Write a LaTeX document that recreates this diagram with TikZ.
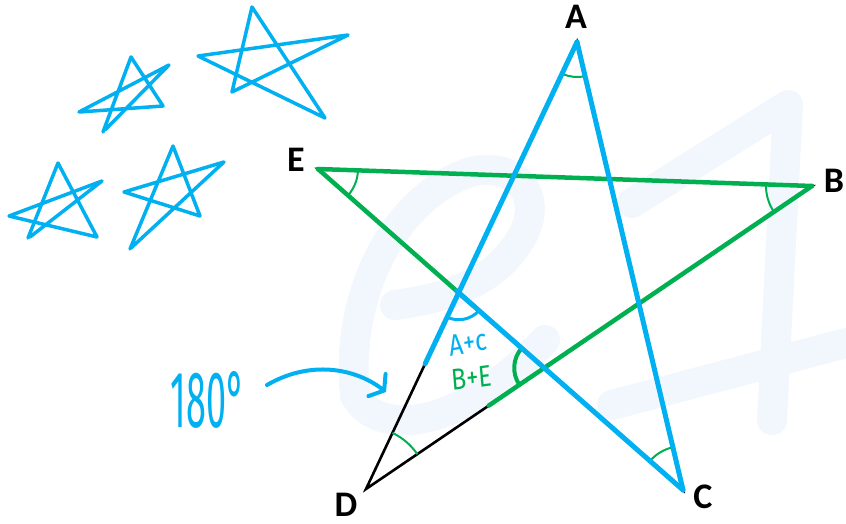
\documentclass[tikz,border=0pt]{standalone}
\usepackage{fontspec}
\setmainfont{Carlito}
\newfontfamily\handfont{Fira Sans}
\usetikzlibrary{angles,calc,arrows.meta}
\definecolor{skyb}{HTML}{00B0F0}
\definecolor{grn}{HTML}{00B050}
\definecolor{wmark}{HTML}{F1F7FC}
\begin{document}
\begin{tikzpicture}[x=1pt,y=-1pt,
  wm/.style={draw=wmark,line width=30pt,line cap=round,line join=round},
  blackline/.style={draw=black,line width=2.6pt,line cap=round},
  greenline/.style={draw=grn,line width=4.5pt,line cap=round},
  blueline/.style={draw=skyb,line width=5pt,line cap=round},
  doodle/.style={draw=skyb,line width=3.5pt,line cap=round,line join=round},
  garc/.style={draw=grn,line width=2pt},
  vlabel/.style={font=\bfseries\fontsize{36}{36}\selectfont,inner sep=0pt},
  hand/.style={font=\handfont\fontsize{30}{30}\selectfont,inner sep=0pt,xscale=0.82}]
\useasboundingbox (0,0) rectangle (846,524);
% watermark
\draw[wm] (355,395) .. controls (345,300) and (390,200) .. (470,172)
  .. controls (520,160) and (545,200) .. (520,240)
  .. controls (490,290) and (430,300) .. (395,305);
\draw[wm] (355,395) .. controls (375,435) and (455,435) .. (545,340);
\draw[wm] (632,203) -- (788,105) -- (772,420);
\draw[wm] (612,405) -- (846,343);
% doodle stars
\draw[doodle] (103,132) -- (131,57) -- (163,106) -- (79,112) -- (169,65) -- (105,130);
\draw[doodle] (232,92) -- (252,7) -- (325,118) -- (198,56) -- (348,35) -- (232,92);
\draw[doodle] (28,238) -- (58,163) -- (97,237) -- (9,216) -- (102,181) -- (30,237);
\draw[doodle] (130,249) -- (173,146) -- (200,216) -- (124,192) -- (224,162) -- (131,248);
% vertices
\coordinate (A) at (577,42);
\coordinate (B) at (812,186);
\coordinate (C) at (683,490);
\coordinate (D) at (366,489);
\coordinate (E) at (318,169);
\coordinate (P) at (intersection of A--D and E--C);
\coordinate (Q) at (intersection of E--C and D--B);
\node[vlabel] (lA) at (576,17) {A};
\node[vlabel] (lB) at (834,181) {B};
\node[vlabel] (lC) at (703,497) {C};
\node[vlabel] (lD) at (346,505) {D};
\node[vlabel] (lE) at (296,160) {E};
% black star
\draw[blackline] (A) -- (D) -- (B) -- (E) -- (C) -- cycle;
% green overlays
\draw[greenline] (E) -- (B);
\draw[greenline] (E) -- ($(E)!0.43!(C)$);
\draw[greenline] ($(D)!0.275!(B)$) -- (B);
% angle arcs
\pic[garc,angle radius=35pt] {angle = D--A--C};
\pic[garc,angle radius=40pt] {angle = C--E--B};
\pic[garc,angle radius=46pt] {angle = E--B--D};
\pic[garc,angle radius=44pt] {angle = A--C--E};
\pic[garc,angle radius=62pt] {angle = B--D--A};
\pic[draw=grn,line width=4pt,angle radius=30pt] {angle = E--Q--D};
% blue overlays
\draw[blueline] (A) -- ($(A)!0.72!(D)$);
\draw[blueline] (A) -- (C);
\draw[blueline] ($(E)!0.38!(C)$) -- (C);
\pic[draw=skyb,line width=3pt,angle radius=27pt] {angle = D--P--C};
% inner labels
\node[hand,text=skyb,rotate=8] (ac) at (468,343) {A+c};
\node[hand,text=grn,rotate=6] (be) at (472,378) {B+E};
% 180 and arrow
\node[font=\handfont\fontsize{80}{80}\selectfont,text=skyb,inner sep=0pt,xscale=0.45] (deg) at (208,400) {180°};
\coordinate (arrS) at (267,385);
\coordinate (arrE) at (386,392);
\draw[draw=skyb,line width=4pt,line cap=round,line join=round,
  -{Straight Barb[length=9pt,width=28pt,line cap=round]}]
  (arrS) .. controls (310,360) and (355,368) .. (arrE);
\end{tikzpicture}
\end{document}
